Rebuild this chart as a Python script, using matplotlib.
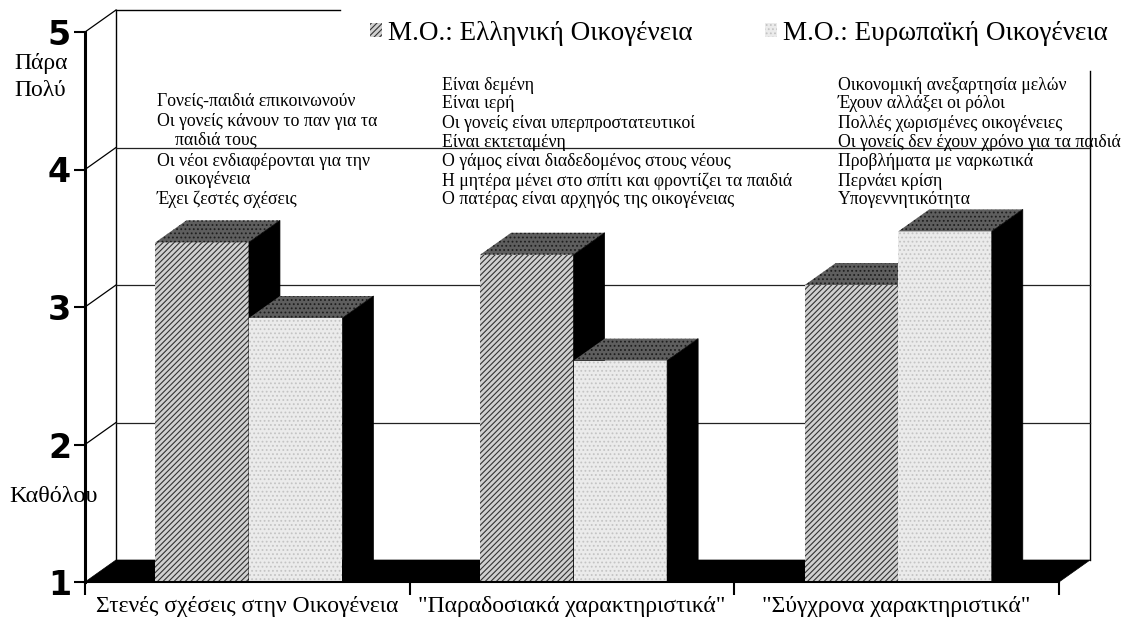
import matplotlib
matplotlib.use("Agg")
import matplotlib.pyplot as plt
from matplotlib.patches import Polygon

# ---------------- data ----------------
categories = ["Στενές σχέσεις στην Οικογένεια",
              "\"Παραδοσιακά χαρακτηριστικά\"",
              "\"Σύγχρονα χαρακτηριστικά\""]
greek = [3.47, 3.38, 3.16]
europe = [2.92, 2.61, 3.55]
series_names = ["Μ.Ο.: Ελληνική Οικογένεια", "Μ.Ο.: Ευρωπαϊκή Οικογένεια"]
yticks = [1, 2, 3, 4, 5]
ylabel_top = ["Πάρα", "Πολύ"]
ylabel_bottom = "Καθόλου"

notes_1 = ["Γονείς-παιδιά επικοινωνούν",
           "Οι γονείς κάνουν το παν για τα",
           "    παιδιά τους",
           "Οι νέοι ενδιαφέρονται για την",
           "    οικογένεια",
           "Έχει ζεστές σχέσεις"]
notes_2 = ["Είναι δεμένη",
           "Είναι ιερή",
           "Οι γονείς είναι υπερπροστατευτικοί",
           "Είναι εκτεταμένη",
           "Ο γάμος είναι διαδεδομένος στους νέους",
           "Η μητέρα μένει στο σπίτι και φροντίζει τα παιδιά",
           "Ο πατέρας είναι αρχηγός της οικογένειας"]
notes_3 = ["Οικονομική ανεξαρτησία μελών",
           "Έχουν αλλάξει οι ρόλοι",
           "Πολλές χωρισμένες οικογένειες",
           "Οι γονείς δεν έχουν χρόνο για τα παιδιά",
           "Προβλήματα με ναρκωτικά",
           "Περνάει κρίση",
           "Υπογεννητικότητα"]

# ---------------- layout ----------------
W, H = 1121, 625
SERIF = ["Liberation Serif", "DejaVu Serif"]
plt.rcParams["hatch.linewidth"] = 0.8

fig = plt.figure(figsize=(W / 100, H / 100), dpi=100)
fig.patch.set_facecolor("white")
ax = fig.add_axes([85 / W, 43 / H, 974 / W, 550 / H])
ax.set_xlim(0, 3)
ax.set_ylim(1, 5)
ax.set_facecolor("none")

def fx(x):
    return x / W

def fy(y):
    return 1 - y / H

DX, DY = 0.0955, 0.16      # oblique depth offset (data units)
BW = 0.288                 # bar width
OFF = 0.005                # pair offset from category centre

# back wall
wall_kw = dict(color="black", lw=1.0, zorder=0.5, clip_on=False)
ax.plot([DX, DX], [1 + DY, 5 + DY], **wall_kw)
ax.plot([DX, 0.785], [5 + DY, 5 + DY], **wall_kw)
ax.plot([3 + DX, 3 + DX], [1 + DY, 4.72], **wall_kw)
for v in yticks[1:-1]:
    ax.plot([DX, 3 + DX], [v + DY, v + DY], color="#222222", lw=0.9,
            zorder=0.5, clip_on=False)
for v in yticks[1:]:
    ax.plot([0, DX], [v, v + DY], color="black", lw=0.9, zorder=0.5,
            clip_on=False)

# floor
ax.add_patch(Polygon([(0, 1), (3, 1), (3 + DX, 1 + DY), (DX, 1 + DY)],
                     closed=True, facecolor="black", edgecolor="black",
                     lw=0.5, zorder=1, clip_on=False))

idx = list(range(len(categories)))
g_pos = [i + 0.5 + OFF - BW / 2 for i in idx]
e_pos = [i + 0.5 + OFF + BW / 2 for i in idx]

g_bars = ax.bar(g_pos, [v - 1 for v in greek], bottom=1, width=BW,
                color="#d0d0d0", edgecolor="#333333", hatch="//////",
                linewidth=0, zorder=3, clip_on=False, label=series_names[0])
e_bars = ax.bar(e_pos, [v - 1 for v in europe], bottom=1, width=BW,
                color="#ebebeb", edgecolor="#c4c4c4", hatch="....",
                linewidth=0, zorder=5, clip_on=False, label=series_names[1])

def add_depth(bars, z):
    for b in bars:
        x0 = b.get_x()
        x1 = x0 + b.get_width()
        top = b.get_y() + b.get_height()
        ax.add_patch(Polygon([(x0, top), (x1, top), (x1 + DX, top + DY),
                              (x0 + DX, top + DY)], closed=True,
                             facecolor="#5e5e5e", edgecolor="#1e1e1e",
                             hatch="....", lw=0, zorder=z, clip_on=False))
        ax.add_patch(Polygon([(x1, 1), (x1 + DX, 1 + DY), (x1 + DX, top + DY),
                              (x1, top)], closed=True, facecolor="black",
                             edgecolor="black", lw=0.5, zorder=z,
                             clip_on=False))

add_depth(g_bars, 3.5)
add_depth(e_bars, 5.5)

# axes / ticks
for s in ["top", "right"]:
    ax.spines[s].set_visible(False)
ax.spines["left"].set_linewidth(2.2)
ax.spines["bottom"].set_linewidth(1.5)
ax.spines["left"].set_zorder(6)
ax.spines["bottom"].set_zorder(6)

ax.set_yticks(yticks)
ax.set_yticklabels([str(t) for t in yticks])
ax.tick_params(axis="y", direction="out", length=8, width=1.5, pad=2,
               labelsize=24)
for lab in ax.get_yticklabels():
    lab.set_fontweight("bold")
    lab.set_family("DejaVu Sans")

ax.set_xticks([0, 1, 2, 3])
ax.set_xticklabels([])
ax.set_xticks([i + 0.5 for i in idx], minor=True)
ax.set_xticklabels(categories, minor=True, family=SERIF, fontsize=17)
ax.tick_params(axis="x", which="major", direction="out", length=9, width=1.5)
ax.tick_params(axis="x", which="minor", length=0, pad=10)

# side labels
fig.text(fx(14), fy(63), ylabel_top[0], family=SERIF, fontsize=17,
         va="center", ha="left")
fig.text(fx(14), fy(90), ylabel_top[1], family=SERIF, fontsize=17,
         va="center", ha="left")
fig.text(fx(9), fy(497), ylabel_bottom, family=SERIF, fontsize=17.5,
         va="center", ha="left")

# annotations
def notes(lines, x, ys):
    for t, y in zip(lines, ys):
        fig.text(fx(x), fy(y), t, family=SERIF, fontsize=12.8,
                 va="center", ha="left", zorder=10)

notes(notes_1, 157, [101, 121, 140, 161, 180, 199])
ys2 = [85, 104, 123, 142, 162, 181, 199]
notes(notes_2, 442, ys2)
notes(notes_3, 838, ys2)

# legend
fig.legend(handles=[g_bars, e_bars], labels=series_names, loc="center left",
           bbox_to_anchor=(fx(370), fy(33)), bbox_transform=fig.transFigure,
           ncol=2, frameon=False, prop={"family": SERIF, "size": 19.5},
           handlelength=0.45, handleheight=0.45, handletextpad=0.2,
           columnspacing=2.7, borderpad=0, borderaxespad=0)

fig.savefig("out.png", dpi=100, facecolor="white")
